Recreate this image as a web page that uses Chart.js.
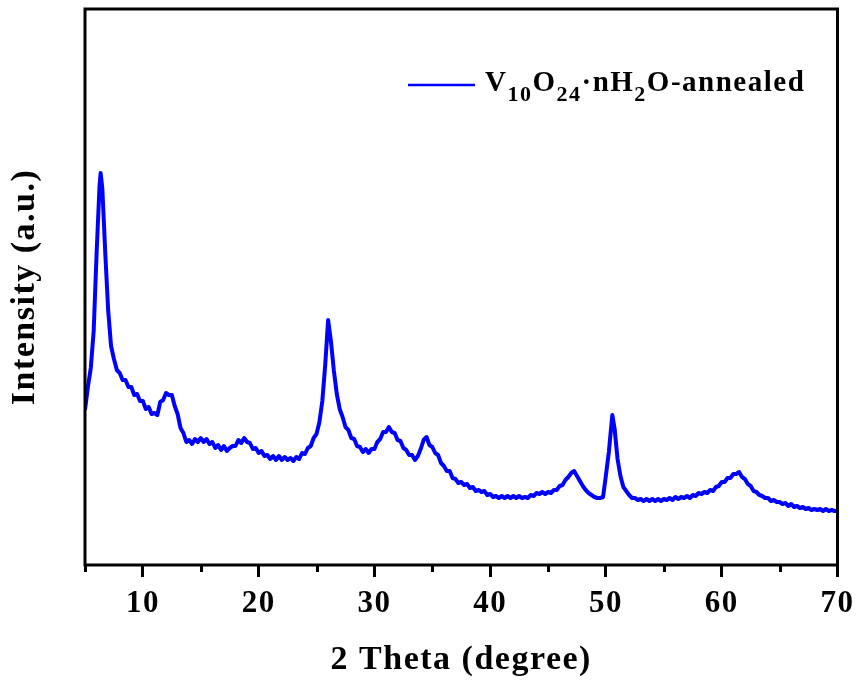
<!DOCTYPE html>
<html>
<head>
<meta charset="utf-8">
<title>XRD</title>
<script src="https://cdn.jsdelivr.net/npm/chart.js@4.4.1/dist/chart.umd.min.js"></script>
<style>
  html, body { margin: 0; padding: 0; background: #fff; }
  #wrap { position: relative; width: 861px; height: 686px; }
</style>
</head>
<body>
<div id="wrap"><canvas id="xrdChart"></canvas></div>
<script>
// 2 theta (degree), scan points
const twoTheta = [
  5, 5.25, 5.5, 5.75,
  6, 6.25, 6.35, 6.5, 6.75,
  7, 7.25, 7.5, 7.75,
  8, 8.25, 8.5, 8.75,
  9, 9.25, 9.5, 9.75,
  10, 10.25, 10.5, 10.75,
  11, 11.25, 11.5, 11.75,
  12, 12.25, 12.5, 12.75,
  13, 13.25, 13.5, 13.75,
  14, 14.25, 14.5, 14.75,
  15, 15.25, 15.5, 15.75,
  16, 16.25, 16.5, 16.75,
  17, 17.25, 17.5, 17.75,
  18, 18.25, 18.5, 18.75,
  19, 19.25, 19.5, 19.75,
  20, 20.25, 20.5, 20.75,
  21, 21.25, 21.5, 21.75,
  22, 22.25, 22.5, 22.75,
  23, 23.25, 23.5, 23.75,
  24, 24.25, 24.5, 24.75,
  25, 25.25, 25.5, 25.75,
  26, 26.25, 26.5, 26.75,
  27, 27.25, 27.5, 27.75,
  28, 28.25, 28.5, 28.75,
  29, 29.25, 29.5, 29.75,
  30, 30.25, 30.5, 30.75,
  31, 31.25, 31.5, 31.75,
  32, 32.25, 32.5, 32.75,
  33, 33.25, 33.5, 33.75,
  34, 34.25, 34.5, 34.75,
  35, 35.25, 35.5, 35.75,
  36, 36.25, 36.5, 36.75,
  37, 37.25, 37.5, 37.75,
  38, 38.25, 38.5, 38.75,
  39, 39.25, 39.5, 39.75,
  40, 40.25, 40.5, 40.75,
  41, 41.25, 41.5, 41.75,
  42, 42.25, 42.5, 42.75,
  43, 43.25, 43.5, 43.75,
  44, 44.25, 44.5, 44.75,
  45, 45.25, 45.5, 45.75,
  46, 46.25, 46.5, 46.75,
  47, 47.25, 47.5, 47.75,
  48, 48.25, 48.5, 48.75,
  49, 49.25, 49.5, 49.75,
  50, 50.25, 50.5, 50.55, 50.75,
  51, 51.25, 51.5, 51.75,
  52, 52.25, 52.5, 52.75,
  53, 53.25, 53.5, 53.75,
  54, 54.25, 54.5, 54.75,
  55, 55.25, 55.5, 55.75,
  56, 56.25, 56.5, 56.75,
  57, 57.25, 57.5, 57.75,
  58, 58.25, 58.5, 58.75,
  59, 59.25, 59.5, 59.75,
  60, 60.25, 60.5, 60.75,
  61, 61.25, 61.5, 61.75,
  62, 62.25, 62.5, 62.75,
  63, 63.25, 63.5, 63.75,
  64, 64.25, 64.5, 64.75,
  65, 65.25, 65.5, 65.75,
  66, 66.25, 66.5, 66.75,
  67, 67.25, 67.5, 67.75,
  68, 68.25, 68.5, 68.75,
  69, 69.25, 69.5, 69.75,
  70
];

// intensity (a.u.), same order as twoTheta
const intensity = [
  155, 178, 197, 234,
  311, 378, 392, 376, 312,
  255, 219, 206, 195,
  192, 185, 185, 178,
  178, 170, 171, 164,
  164, 156, 158, 151,
  152, 150, 163, 165,
  172, 170, 170, 159,
  151, 137, 132, 123,
  125, 121, 126, 123,
  127, 123, 126, 121,
  123, 117, 120, 115,
  119, 114, 117, 119,
  119, 125, 122, 127,
  123, 122, 116, 117,
  112, 114, 109, 110,
  106, 109, 105, 109,
  105, 108, 105, 107,
  104, 108, 106, 112,
  111, 117, 119, 127,
  131, 143, 164, 200,
  245, 223, 194, 171,
  156, 148, 138, 135,
  127, 126, 119, 118,
  113, 116, 112, 116,
  116, 123, 126, 133,
  133, 138, 133, 132,
  125, 124, 117, 115,
  110, 110, 105, 109,
  116, 125, 128, 120,
  118, 112, 110, 102,
  99, 94, 94, 87,
  86, 82, 83, 80,
  81, 77, 78, 74,
  75, 73, 74, 70,
  71, 68, 69, 67,
  69, 67, 69, 67,
  69, 67, 69, 67,
  68, 67, 70, 69,
  72, 71, 73, 71,
  73, 72, 75, 75,
  79, 80, 85, 88,
  92, 94, 89, 84,
  79, 75, 72, 70,
  68, 67, 67, 68,
  90, 113, 144, 150, 136,
  106, 89, 78, 74,
  70, 67, 67, 65,
  66, 64, 66, 64,
  66, 64, 66, 64,
  66, 65, 67, 65,
  68, 66, 68, 67,
  69, 67, 70, 69,
  72, 71, 73, 72,
  75, 74, 78, 79,
  83, 83, 87, 87,
  91, 91, 93, 88,
  86, 81, 79, 74,
  73, 70, 69, 67,
  67, 64, 65, 63,
  63, 61, 62, 59,
  61, 58, 59, 57,
  58, 56, 57, 55,
  56, 55, 56, 54,
  56, 54, 55, 54,
  54
];

const majorTicks = [10, 20, 30, 40, 50, 60, 70];
const minorTicks = [5, 15, 25, 35, 45, 55, 65];

// legend text split into normal / subscript runs
const seriesLabel = 'V10O24·nH2O-annealed';
const labelParts = [
  ['V', false], ['10', true], ['O', false], ['24', true],
  ['·nH', false], ['2', true], ['O-annealed', false]
];

const lineColor = '#0000ff';
const serif = '"Liberation Serif", "Times New Roman", serif';

// frame, minor ticks and the legend with subscripts
const decorPlugin = {
  id: 'decor',
  beforeDraw(chart) {
    chart.ctx.letterSpacing = '1.5px';
  },
  afterDraw(chart) {
    const { ctx, chartArea: a, scales } = chart;
    ctx.save();
    ctx.strokeStyle = '#000';
    ctx.lineWidth = 3;
    ctx.strokeRect(a.left, a.top, a.right - a.left, a.bottom - a.top);

    // minor ticks
    ctx.beginPath();
    minorTicks.forEach(v => {
      const x = Math.round(scales.x.getPixelForValue(v)) + 0.5;
      ctx.moveTo(x, a.bottom);
      ctx.lineTo(x, a.bottom + 7);
    });
    ctx.stroke();

    // legend
    const ds = chart.data.datasets[0];
    ctx.strokeStyle = ds.borderColor;
    ctx.lineWidth = 2.5;
    ctx.beginPath();
    ctx.moveTo(408, 85);
    ctx.lineTo(475, 85);
    ctx.stroke();

    ctx.fillStyle = '#000';
    ctx.textBaseline = 'alphabetic';
    ctx.textAlign = 'left';
    ctx.letterSpacing = '1.5px';
    let x = 485;
    labelParts.forEach(([t, sub]) => {
      ctx.font = sub ? `bold 22px ${serif}` : `bold 29px ${serif}`;
      ctx.fillText(t, x, sub ? 101 : 91);
      x += ctx.measureText(t).width;
    });
    ctx.restore();
  }
};

new Chart(document.getElementById('xrdChart'), {
  type: 'line',
  data: {
    datasets: [{
      label: seriesLabel,
      data: twoTheta.map((t, i) => ({ x: t, y: intensity[i] })),
      borderColor: lineColor,
      borderWidth: 4,
      borderJoinStyle: 'round',
      pointRadius: 0,
      tension: 0,
      fill: false
    }]
  },
  options: {
    responsive: true,
    maintainAspectRatio: false,
    animation: false,
    layout: { padding: { top: 9, right: 21, left: 0, bottom: 0 } },
    plugins: { legend: { display: false }, tooltip: { enabled: false } },
    scales: {
      x: {
        type: 'linear',
        min: 5,
        max: 70,
        afterBuildTicks: s => { s.ticks = majorTicks.map(v => ({ value: v })); },
        afterFit: s => { s.height = 121; },
        border: { display: false },
        grid: { drawOnChartArea: false, drawTicks: true, tickLength: 12, tickWidth: 3, tickColor: '#000' },
        ticks: { color: '#000', padding: 8, maxRotation: 0, font: { family: serif, size: 31, weight: 'bold' } },
        title: {
          display: true,
          text: '2 Theta (degree)',
          color: '#000',
          font: { family: serif, size: 34, weight: 'bold' },
          padding: { top: 0, bottom: 5 }
        }
      },
      y: {
        min: 0,
        max: 556,
        afterFit: s => { s.width = 85; },
        border: { display: false },
        grid: { display: false },
        ticks: { display: false },
        title: {
          display: true,
          text: 'Intensity (a.u.)',
          color: '#000',
          font: { family: serif, size: 34, weight: 'bold' },
          padding: { top: 5, bottom: 0 }
        }
      }
    }
  },
  plugins: [decorPlugin]
});
</script>
</body>
</html>
